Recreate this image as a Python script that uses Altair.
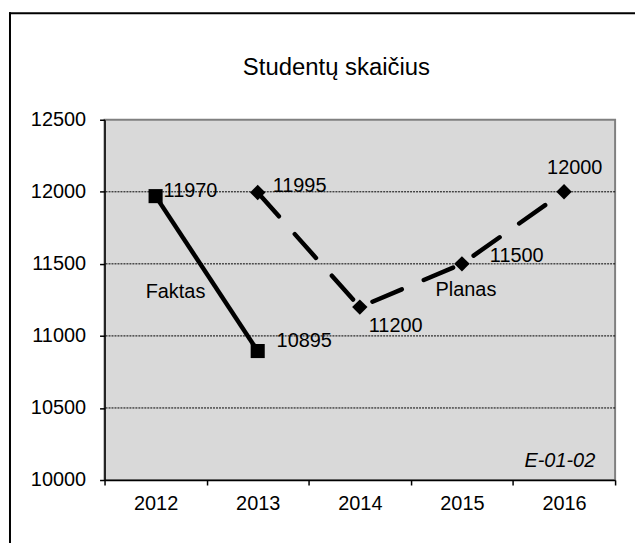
import altair as alt
import pandas as pd

# ---- data ----
years = ["2012", "2013", "2014", "2015", "2016"]
fakt_years = ["2012", "2013"]
fakt_values = [11970, 10895]
plan_years = ["2013", "2014", "2015", "2016"]
plan_values = [11995, 11200, 11500, 12000]
y_ticks = [10000, 10500, 11000, 11500, 12000, 12500]
grid_values = [10500, 11000, 11500, 12000]
series_names = ["Faktas", "Planas"]
series_label_years = ["2012", "2015"]
series_label_values = [11305, 11320]
title_text = "Studentų skaičius"
code_text = "E-01-02"

FONT = "Liberation Sans"
FS = 20

fakt = pd.DataFrame({"year": fakt_years, "value": fakt_values})
plan = pd.DataFrame({"year": plan_years, "value": plan_values})
grid_df = pd.DataFrame({"value": grid_values})
names_df = pd.DataFrame({"year": series_label_years, "value": series_label_values, "name": series_names})

xscale = alt.Scale(type="band", domain=years, paddingInner=0, paddingOuter=0)
yscale = alt.Scale(domain=[10000, 12500], nice=False, zero=False)

x_axis = alt.Axis(title=None, tickBand="extent", labelAngle=0, labelFont=FONT,
                  labelFontSize=FS, labelColor="black", labelPadding=9,
                  tickSize=5, tickColor="black", tickWidth=1.5,
                  domainColor="black", domainWidth=1.5, grid=False)
y_axis = alt.Axis(title=None, values=y_ticks, format="d", labelFont=FONT,
                  labelFontSize=FS, labelColor="black", labelPadding=14,
                  tickSize=5, tickColor="black", tickWidth=1.5,
                  domainColor="black", domainWidth=1.5, grid=False)


def X():
    return alt.X("year:N", scale=xscale, axis=x_axis)


def Y():
    return alt.Y("value:Q", scale=yscale, axis=y_axis)


grid = alt.Chart(grid_df).mark_rule(color="black", strokeWidth=1, strokeDash=[2, 1]).encode(y=Y())

fakt_line = alt.Chart(fakt).mark_line(color="black", strokeWidth=4.5).encode(x=X(), y=Y())
fakt_pts = alt.Chart(fakt).mark_point(shape="square", filled=True, size=200, color="black", opacity=1).encode(x=X(), y=Y())

plan_line = alt.Chart(plan).mark_line(color="black", strokeWidth=4.5, strokeDash=[32, 24], strokeCap="round").encode(x=X(), y=Y())
plan_pts = alt.Chart(plan).mark_point(shape="diamond", filled=True, size=240, color="black", opacity=1).encode(x=X(), y=Y())


def value_label(df, i, dx, dy, align="left"):
    return alt.Chart(df.iloc[[i]]).mark_text(
        align=align, baseline="middle", dx=dx, dy=dy, font=FONT, fontSize=FS, color="black"
    ).encode(x=X(), y=Y(), text=alt.Text("value:Q", format="d"))


labels = [
    value_label(fakt, 0, 8, -5),
    value_label(fakt, 1, 19, -10),
    value_label(plan, 0, 15, -7),
    value_label(plan, 1, 9, 19),
    value_label(plan, 2, 28, -8),
    value_label(plan, 3, -17, -24),
]

fakt_name = alt.Chart(names_df.iloc[[0]]).mark_text(
    align="center", baseline="middle", dx=20, font=FONT, fontSize=FS, color="black"
).encode(x=X(), y=Y(), text="name:N")
plan_name = alt.Chart(names_df.iloc[[1]]).mark_text(
    align="center", baseline="middle", dx=4, font=FONT, fontSize=FS, color="black"
).encode(x=X(), y=Y(), text="name:N")

deco = alt.Data(values=[{}])
title = alt.Chart(deco).mark_text(
    text=title_text, align="center", baseline="middle", font=FONT, fontSize=24, color="black"
).encode(x=alt.value(233), y=alt.value(-52))
code = alt.Chart(deco).mark_text(
    text=code_text, align="right", baseline="middle", font=FONT, fontSize=FS,
    fontStyle="italic", color="black"
).encode(x=alt.value(493), y=alt.value(343))
frame_left = alt.Chart(deco).mark_rule(color="black", strokeWidth=2).encode(
    x=alt.value(-95), y=alt.value(-108), y2=alt.value(1000)
)
frame_top = alt.Chart(deco).mark_rule(color="black", strokeWidth=2).encode(
    x=alt.value(-96), x2=alt.value(1000), y=alt.value(-107)
)

chart = alt.layer(
    grid, fakt_line, plan_line, fakt_pts, plan_pts, *labels, fakt_name, plan_name,
    title, code, frame_left, frame_top
).properties(
    width=513, height=362,
    padding={"left": 97, "top": 111, "right": 20, "bottom": 62},
    autosize=alt.AutoSizeParams(type="none"),
    background="white",
).configure_view(
    fill="#D9D9D9", stroke="#808080", strokeWidth=2
)

chart.save("out.html", embed_options={"renderer": "svg", "actions": False})
